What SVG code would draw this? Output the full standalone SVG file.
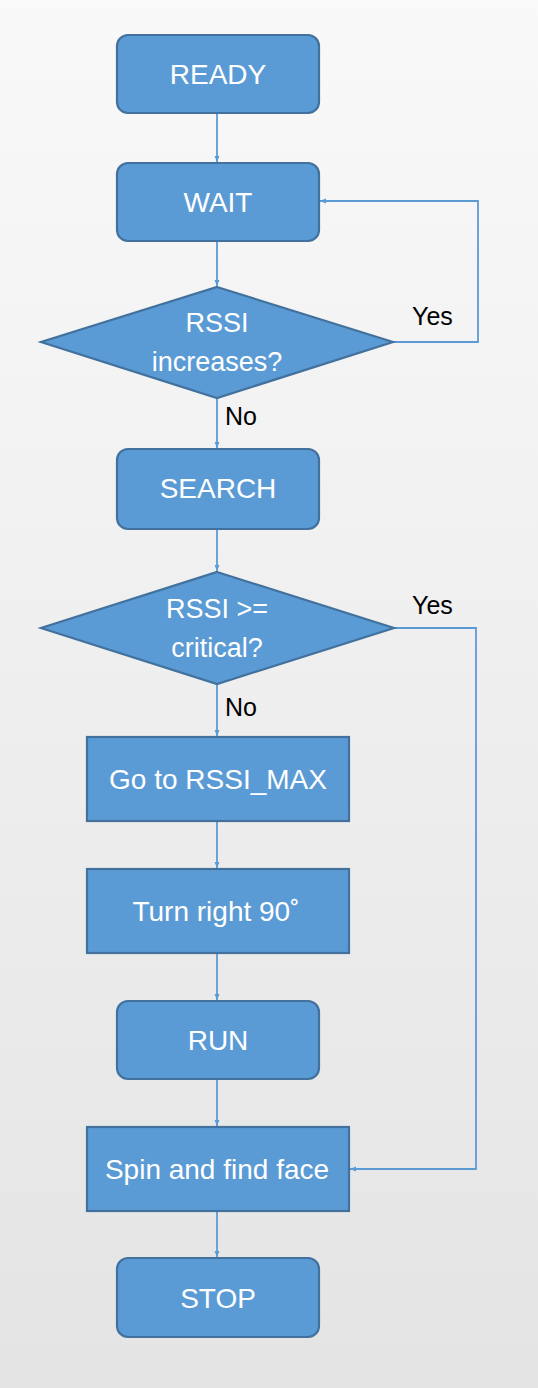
<svg xmlns="http://www.w3.org/2000/svg" width="538" height="1388" viewBox="0 0 538 1388">
<defs>
<linearGradient id="bg" x1="0" y1="0" x2="0" y2="1">
<stop offset="0" stop-color="#f9f9f9"/>
<stop offset="1" stop-color="#e4e4e4"/>
</linearGradient>
<marker id="ah" viewBox="0 0 6 6" refX="6" refY="3" markerWidth="6" markerHeight="6" markerUnits="userSpaceOnUse" orient="auto">
<path d="M0,0.5 L6,3 L0,5.5 Z" fill="#5b9bd5"/>
</marker>
<style>
.n{fill:#5b9bd5;stroke:#41719c;stroke-width:2.2}
.t{font-family:"Liberation Sans",Arial,sans-serif;font-size:28px;fill:#ffffff;text-anchor:middle}
.d{font-family:"Liberation Sans",Arial,sans-serif;font-size:27px;fill:#ffffff;text-anchor:middle}
.l{font-family:"Liberation Sans",Arial,sans-serif;font-size:25px;fill:#000000}
.c{fill:none;stroke:#5b9bd5;stroke-width:1.8;marker-end:url(#ah)}
</style>
</defs>
<rect x="0" y="0" width="538" height="1388" fill="url(#bg)"/>
<g id="connectors">
<path class="c" d="M217,113 V162"/>
<path class="c" d="M217,241 V286"/>
<path class="c" d="M393,342 H478 V201 H320"/>
<path class="c" d="M217,398 V448"/>
<path class="c" d="M217,529 V571"/>
<path class="c" d="M217,684 V736"/>
<path class="c" d="M394,628 H476 V1169 H350"/>
<path class="c" d="M217,821 V868"/>
<path class="c" d="M217,953 V1000"/>
<path class="c" d="M217,1079 V1126"/>
<path class="c" d="M217,1211 V1257"/>
<text class="l" x="412" y="325">Yes</text>
<text class="l" x="225" y="425">No</text>
<text class="l" x="412" y="614">Yes</text>
<text class="l" x="225" y="716">No</text>
</g>
<g id="ready"><rect class="n" x="117" y="35" width="202" height="78" rx="11"/><text class="t" x="218" y="84">READY</text></g>
<g id="wait"><rect class="n" x="117" y="163" width="202" height="78" rx="11"/><text class="t" x="218" y="212">WAIT</text></g>
<g id="rssi-increases"><polygon class="n" points="217,287 393,342 217,398 41,342"/><text class="d" x="217" y="332">RSSI</text><text class="d" x="217" y="371">increases?</text></g>
<g id="search"><rect class="n" x="117" y="449" width="202" height="80" rx="11"/><text class="t" x="218" y="498">SEARCH</text></g>
<g id="rssi-critical"><polygon class="n" points="217,572 394,628 217,684 41,628"/><text class="d" x="217" y="618">RSSI &gt;=</text><text class="d" x="217" y="657">critical?</text></g>
<g id="goto-max"><rect class="n" x="87" y="737" width="262" height="84"/><text class="t" x="218" y="789">Go to RSSI_MAX</text></g>
<g id="turn-right"><rect class="n" x="87" y="869" width="262" height="84"/><text class="t" x="216" y="921">Turn right 90˚</text></g>
<g id="run"><rect class="n" x="117" y="1001" width="202" height="78" rx="11"/><text class="t" x="218" y="1050">RUN</text></g>
<g id="spin"><rect class="n" x="87" y="1127" width="262" height="84"/><text class="t" x="217" y="1179">Spin and find face</text></g>
<g id="stop"><rect class="n" x="117" y="1258" width="202" height="79" rx="11"/><text class="t" x="218" y="1308">STOP</text></g>
</svg>
